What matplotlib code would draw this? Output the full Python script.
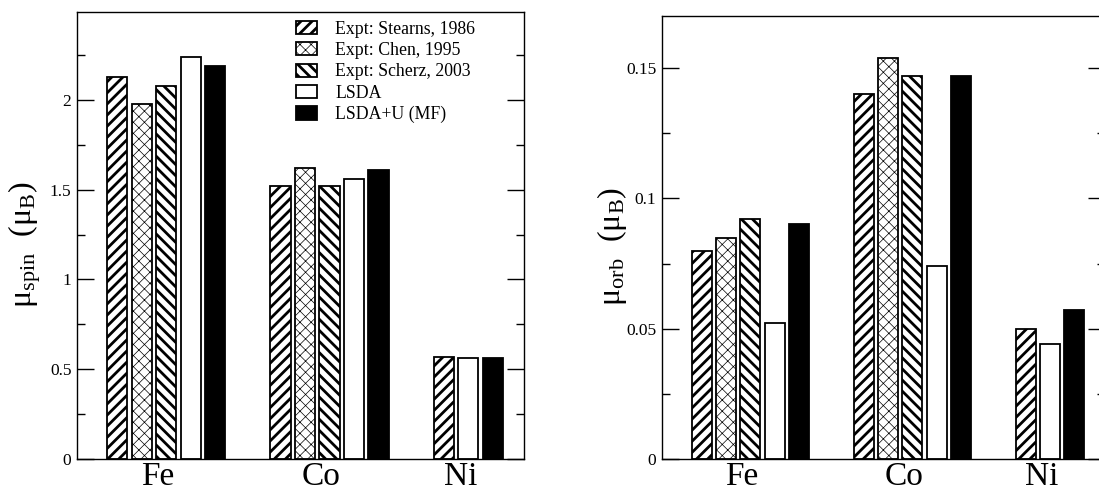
import numpy as np
import matplotlib
matplotlib.use("Agg")
import matplotlib.pyplot as plt
from matplotlib.ticker import MultipleLocator

plt.rcParams["font.family"] = ["Liberation Serif", "DejaVu Serif"]
plt.rcParams["mathtext.fontset"] = "custom"
plt.rcParams["mathtext.rm"] = "Liberation Serif"
plt.rcParams["mathtext.it"] = "Liberation Serif:italic"

elements = ["Fe", "Co", "Ni"]
series = ["Expt: Stearns, 1986", "Expt: Chen, 1995", "Expt: Scherz, 2003",
          "LSDA", "LSDA+U (MF)"]

# spin moments, None where no value exists
spin_stearns = [2.13, 1.52, 0.57]
spin_chen = [1.98, 1.62, None]
spin_scherz = [2.08, 1.52, None]
spin_lsda = [2.24, 1.56, 0.56]
spin_lsdau = [2.19, 1.61, 0.56]

# orbital moments
orb_stearns = [0.080, 0.140, 0.050]
orb_chen = [0.085, 0.154, None]
orb_scherz = [0.092, 0.147, None]
orb_lsda = [0.052, 0.074, 0.044]
orb_lsdau = [0.090, 0.147, 0.057]

# hatch, face colour, hatch line width for each series
styles = [("///", "white", 2.0),
          ("xxx", "white", 0.5),
          ("\\\\\\", "white", 2.0),
          ("", "white", 1.0),
          ("", "black", 1.0)]

W, H = 1099, 494
fig = plt.figure(figsize=(W / 100, H / 100), dpi=100)
ax1 = fig.add_axes([77 / W, 35 / H, 447 / W, 447 / H])
ax2 = fig.add_axes([662 / W, 35 / H, 443 / W, 443 / H])

step = 0.15
width = 0.123


def set_hatch_lw(patch, lw):
    if hasattr(patch, "set_hatch_linewidth"):
        patch.set_hatch_linewidth(lw)
    elif hasattr(patch, "_hatch_linewidth"):
        patch._hatch_linewidth = lw


def draw(ax, data, ylim, major, minor, ylabel):
    centers = []
    handles = []
    for gi in range(len(elements)):
        slot = 0
        xs = []
        for si, vals in enumerate(data):
            v = vals[gi]
            if v is None:
                continue
            x = gi + 1 - 2 * step + slot * step
            slot += 1
            xs.append(x)
            hatch, fc, hlw = styles[si]
            plt.rcParams["hatch.linewidth"] = hlw
            b = ax.bar(x, v, width=width, color=fc, edgecolor="black",
                       linewidth=1.3, hatch=hatch, zorder=2)
            for p in b.patches:
                set_hatch_lw(p, hlw)
            if gi == 0:
                handles.append(b)
        centers.append(np.mean(xs) - 0.05)

    ax.set_xlim(0.455, 3.19)
    ax.set_ylim(*ylim)
    ax.set_xticks(centers)
    ax.set_xticklabels(elements, fontsize=24)
    ax.tick_params(axis="x", length=0, pad=2)
    ax.yaxis.set_major_locator(MultipleLocator(major))
    ax.yaxis.set_minor_locator(MultipleLocator(minor))
    ax.yaxis.set_major_formatter(plt.FuncFormatter(lambda v, p: f"{v:g}"))
    ax.tick_params(axis="y", which="both", direction="in", left=True, right=True,
                   labelsize=12.5, width=1, pad=4)
    ax.tick_params(axis="y", which="major", length=12)
    ax.tick_params(axis="y", which="minor", length=6)
    for s in ax.spines.values():
        s.set_linewidth(1.0)
    ax.set_ylabel(ylabel, fontsize=23)
    ax.yaxis.set_label_coords(-0.075, 0.48)
    return handles


h = draw(ax1, [spin_stearns, spin_chen, spin_scherz, spin_lsda, spin_lsdau],
         (0, 2.49), 0.5, 0.25, "μ$_{\\mathrm{spin}}$  (μ$_{\\mathrm{B}}$)")

draw(ax2, [orb_stearns, orb_chen, orb_scherz, orb_lsda, orb_lsdau],
     (0, 0.17), 0.05, 0.025, "μ$_{\\mathrm{orb}}$  (μ$_{\\mathrm{B}}$)")

leg = ax1.legend(handles=h, labels=series, loc="upper left",
                 bbox_to_anchor=(0.47, 1.0), frameon=False, fontsize=12.8,
                 handlelength=1.2, handleheight=0.75, handletextpad=1.0,
                 labelspacing=0.24, borderaxespad=0.1)
for p, (hatch, fc, hlw) in zip(leg.get_patches(), styles):
    set_hatch_lw(p, hlw)

fig.savefig("out.png", dpi=100)
